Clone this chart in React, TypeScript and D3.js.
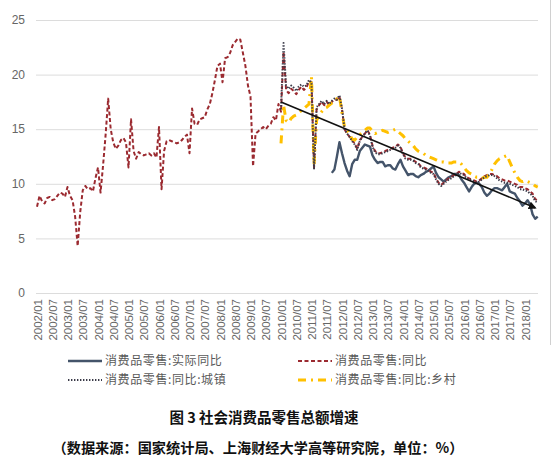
import * as d3 from "d3";
import { useEffect, useRef } from "react";

// Monthly categories 2002/01 .. 2018/06
const firstMonth = new Date(2002, 0, 1);
const lastMonth = new Date(2018, 5, 1);
const months = d3.timeMonth.range(firstMonth, d3.timeMonth.offset(lastMonth, 1)).map(d3.timeFormat("%Y/%m"));

// tick labels shown on the axis (every 6 months, 2002/01 .. 2018/01)
const tickLabels = months.filter((m) => m.endsWith("/01") || m.endsWith("/07")).filter((m) => m <= "2018/01");

const yTicks = [0, 5, 10, 15, 20, 25];

// 消费品零售:同比 (2002/01 - 2018/06)
const totalYoY = [
  7.9, 8.9, 8.4, 8.2, 8.7, 8.8, 8.5, 8.6, 8.9, 9.2, 9.1, 8.8,
  9.7, 8.9, 8.5, 7.0, 4.3, 7.4, 9.4, 9.8, 9.5, 9.6, 9.3, 10.5,
  11.5, 9.2, 11.7, 14.5, 17.8, 15.0, 13.8, 13.2, 13.5, 14.0, 14.2, 13.8,
  11.5, 15.9, 13.0, 12.3, 12.9, 12.7, 12.6, 12.7, 12.8, 12.6, 12.8, 12.4,
  15.2, 9.5, 13.0, 13.9, 14.0, 13.9, 13.8, 13.7, 13.8, 14.0, 14.3, 14.5,
  12.8, 16.9, 15.5, 15.4, 15.9, 16.0, 16.1, 16.8, 17.3, 18.3, 19.5, 20.8,
  21.0, 19.3, 21.5, 21.6, 22.0, 22.7, 23.0, 23.3, 23.2, 22.0, 20.8, 19.0,
  18.0, 11.6, 14.6, 14.8, 15.0, 15.2, 15.0, 15.3, 15.5, 16.1, 15.8, 17.3,
  16.6, 22.1, 18.6, 18.3, 18.7, 18.5, 18.2, 18.6, 18.9, 18.6, 18.8, 19.4,
  19.3, 11.5, 16.8, 17.2, 17.5, 17.2, 17.5, 17.2, 17.5, 17.7, 17.7, 18.0,
  16.8, 15.0, 14.6, 14.3, 14.0, 13.7, 13.2, 14.0, 14.3, 14.6, 14.9, 14.5,
  13.5, 13.0, 12.8, 12.8, 12.9, 13.0, 13.1, 13.2, 13.3, 13.4, 13.6, 13.4,
  12.8, 12.4, 12.3, 12.3, 12.2, 12.0, 11.9, 11.6, 11.5, 11.4, 11.3, 11.1,
  11.0, 10.5, 10.1, 9.9, 10.1, 10.3, 10.5, 10.6, 10.8, 10.9, 11.1, 11.0,
  10.9, 10.6, 10.5, 10.4, 10.3, 10.2, 10.3, 10.5, 10.7, 10.8, 10.9, 10.9,
  10.8, 10.7, 10.5, 10.4, 10.3, 10.3, 10.2, 10.1, 10.0, 9.9, 9.7, 9.7,
  9.6, 9.5, 9.3, 9.1, 8.6, 8.5,
];

// 消费品零售:同比:城镇 (2010/01 - 2018/06)
const urbanStart = "2010/01";
const urbanYoY = [
  16.8, 22.9, 19.0, 18.7, 19.0, 18.8, 18.5, 18.9, 19.1, 18.9, 19.0, 19.5,
  19.3, 11.4, 17.0, 17.3, 17.6, 17.3, 17.6, 17.3, 17.6, 17.8, 17.7, 18.1,
  16.9, 15.0, 14.6, 14.3, 13.9, 13.6, 13.1, 13.9, 14.3, 14.6, 14.9, 14.4,
  13.4, 12.9, 12.7, 12.7, 12.8, 12.9, 13.0, 13.1, 13.2, 13.3, 13.5, 13.3,
  12.7, 12.3, 12.2, 12.2, 12.1, 11.9, 11.8, 11.5, 11.4, 11.3, 11.2, 11.0,
  10.9, 10.4, 10.0, 9.8, 10.0, 10.2, 10.4, 10.5, 10.7, 10.8, 11.0, 10.9,
  10.8, 10.5, 10.4, 10.3, 10.2, 10.1, 10.2, 10.4, 10.6, 10.7, 10.8, 10.8,
  10.7, 10.5, 10.3, 10.2, 10.1, 10.1, 10.0, 9.9, 9.8, 9.7, 9.5, 9.5,
  9.4, 9.3, 9.1, 8.9, 8.4, 8.3,
];

// 消费品零售:同比:乡村 (2010/01 - 2018/06)
const ruralStart = "2010/01";
const ruralYoY = [
  13.7, 17.2, 15.8, 15.6, 16.0, 16.2, 16.3, 16.5, 16.7, 16.9, 17.1, 17.3,
  19.8, 11.8, 15.8, 16.3, 16.6, 16.9, 17.0, 17.2, 17.4, 17.6, 17.8, 18.0,
  16.5, 15.2, 14.9, 14.5, 14.1, 14.0, 14.3, 14.5, 14.7, 14.9, 15.1, 15.1,
  14.8, 14.6, 14.7, 14.8, 14.9, 14.8, 14.7, 14.8, 14.9, 15.0, 14.8, 14.6,
  14.4, 14.1, 13.9, 13.7, 13.5, 13.2, 13.0, 12.9, 12.8, 12.6, 12.5, 12.4,
  12.3, 12.2, 12.1, 12.0, 12.0, 11.9, 11.9, 11.9, 12.0, 12.0, 12.0, 11.8,
  11.5, 11.2, 11.0, 10.9, 10.7, 10.6, 10.6, 10.5, 10.6, 10.6, 10.9, 11.3,
  11.8, 12.1, 12.3, 12.4, 12.5, 12.6, 12.0, 11.5, 11.0, 10.6, 10.3, 10.2,
  10.3, 10.2, 10.1, 10.0, 9.8, 9.7,
];

// 消费品零售:实际同比 (2011/09 - 2018/06)
const realStart = "2011/09";
const realYoY = [
  11.0, 11.3, 12.5, 13.8,
  12.8, 11.9, 11.2, 10.7, 11.8, 12.2, 12.2, 13.0, 13.3, 13.6, 13.5, 13.4,
  12.6, 12.2, 11.9, 12.0, 12.0, 11.6, 11.7, 11.7, 11.4, 11.3, 11.8, 12.2,
  11.6, 11.2, 10.8, 10.9, 10.9, 10.7, 10.6, 10.8, 10.9, 11.1, 11.2, 11.4,
  11.6, 11.0, 10.6, 10.4, 10.2, 10.4, 10.6, 10.7, 10.9, 10.9, 10.8, 10.4,
  10.1, 9.7, 9.3, 9.7, 10.0, 10.1, 10.0, 9.7, 9.2, 8.9, 9.1, 9.4,
  9.6, 9.6, 9.5, 9.4, 9.7, 10.0, 9.3, 9.2, 9.1, 8.7, 8.4, 8.0,
  8.2, 8.5, 8.1, 7.2, 6.8, 7.0,
];

// hand drawn trend arrow
const trendMonths = ["2010/01", "2018/05"];
const trendValues = [17.5, 7.8];

const legendItems = [
  { label: "消费品零售:实际同比", key: "real" },
  { label: "消费品零售:同比", key: "total" },
  { label: "消费品零售:同比:城镇", key: "urban" },
  { label: "消费品零售:同比:乡村", key: "rural" },
];

const styles = {
  real: { stroke: "#44546a", width: 2.4, dash: null },
  total: { stroke: "#9b2a30", width: 2, dash: "4,2.5" },
  urban: { stroke: "#3a3a48", width: 2, dash: "1.4,1.6" },
  rural: { stroke: "#ffc000", width: 3, dash: "8,5,2,5" },
};

const W = 554;
const H = 461;
const LATIN = "'Liberation Sans', Arial, sans-serif";
const CJK = "'Noto Sans CJK SC', 'Noto Sans', sans-serif";

const App = () => {
  const ref = useRef(null);

  useEffect(() => {
    if (ref && ref.current) ref.current.innerHTML = "";
    document.body.style.margin = "0";

    const svg = d3.select(ref.current)
      .attr("width", W)
      .attr("height", H)
      .attr("viewBox", [0, 0, W, H])
      .style("background", "#fff")
      .style("display", "block");

    const idx = (m) => months.indexOf(m);
    const x = d3.scaleLinear().domain([0, idx("2018/01")]).range([37, 525]);
    const y = d3.scaleLinear().domain([0, 25]).range([293, 20]);

    // right border line of the picture
    svg.append("line")
      .attr("x1", 550.5).attr("x2", 550.5)
      .attr("y1", 0).attr("y2", 345)
      .attr("stroke", "#d0d0d0");

    // gridlines
    svg.append("g")
      .selectAll("line")
      .data(yTicks)
      .join("line")
        .attr("x1", 36).attr("x2", 538)
        .attr("y1", (d) => y(d) + 0.5).attr("y2", (d) => y(d) + 0.5)
        .attr("stroke", "#dcdcdc")
        .attr("stroke-width", 1);

    // y labels
    svg.append("g")
      .selectAll("text")
      .data(yTicks)
      .join("text")
        .attr("x", 25)
        .attr("y", (d) => y(d))
        .attr("dy", "0.35em")
        .attr("text-anchor", "end")
        .attr("fill", "#666")
        .style("font", `12px ${LATIN}`)
        .text((d) => d);

    // x labels (rotated)
    svg.append("g")
      .selectAll("text")
      .data(tickLabels)
      .join("text")
        .attr("transform", (d) => `translate(${x(idx(d)) + 0.5},299) rotate(-90)`)
        .attr("text-anchor", "end")
        .attr("dominant-baseline", "central")
        .attr("fill", "#666")
        .style("font", `11.5px ${LATIN}`)
        .text((d) => d);

    const line = d3.line()
      .x((d) => x(d.i))
      .y((d) => y(d.v));

    const series = (values, start) => values.map((v, k) => ({ i: idx(start) + k, v }));

    const drawSeries = (data, key) => {
      const s = styles[key];
      svg.append("path")
        .datum(data)
        .attr("d", line)
        .attr("fill", "none")
        .attr("stroke", s.stroke)
        .attr("stroke-width", s.width)
        .attr("stroke-dasharray", s.dash)
        .attr("stroke-linejoin", "round");
    };

    drawSeries(series(realYoY, realStart), "real");
    drawSeries(series(totalYoY, months[0]), "total");
    drawSeries(series(ruralYoY, ruralStart), "rural");
    drawSeries(series(urbanYoY, urbanStart), "urban");

    // trend arrow
    svg.append("defs")
      .append("marker")
        .attr("id", "arrow")
        .attr("viewBox", "0 0 10 10")
        .attr("refX", 8).attr("refY", 5)
        .attr("markerWidth", 5).attr("markerHeight", 5)
        .attr("orient", "auto")
      .append("path")
        .attr("d", "M0,0L10,5L0,10Z")
        .attr("fill", "#111");

    svg.append("path")
      .datum(trendMonths.map((m, k) => ({ i: idx(m), v: trendValues[k] })))
      .attr("d", line)
      .attr("fill", "none")
      .attr("stroke", "#111")
      .attr("stroke-width", 1.6)
      .attr("marker-end", "url(#arrow)");

    // legend
    const legendPos = [
      { x: 68, y: 361 },
      { x: 298, y: 361 },
      { x: 68, y: 380 },
      { x: 298, y: 380 },
    ];
    const lg = svg.append("g")
      .selectAll("g")
      .data(legendItems)
      .join("g")
        .attr("transform", (d, k) => `translate(${legendPos[k].x},${legendPos[k].y})`);

    lg.append("line")
      .attr("x1", 0).attr("x2", 34)
      .attr("y1", 0).attr("y2", 0)
      .attr("stroke", (d) => styles[d.key].stroke)
      .attr("stroke-width", (d) => styles[d.key].width)
      .attr("stroke-dasharray", (d) => styles[d.key].dash);

    lg.append("text")
      .attr("x", 37)
      .attr("y", 0)
      .attr("dy", "0.36em")
      .attr("fill", "#595959")
      .attr("letter-spacing", "0.6")
      .style("font", `12px ${CJK}`)
      .text((d) => d.label);

    // captions
    svg.append("text")
      .attr("x", 264).attr("y", 418)
      .attr("dy", "0.36em")
      .attr("text-anchor", "middle")
      .attr("fill", "#111")
      .style("font", `bold 14.5px ${CJK}`)
      .text("图 3 社会消费品零售总额增速");

    svg.append("text")
      .attr("x", 258).attr("y", 448)
      .attr("dy", "0.36em")
      .attr("text-anchor", "middle")
      .attr("fill", "#111")
      .style("font", `bold 14.2px ${CJK}`)
      .text("（数据来源：国家统计局、上海财经大学高等研究院，单位：%）");
  }, []);

  return <svg ref={ref} />;
};

export default App;
